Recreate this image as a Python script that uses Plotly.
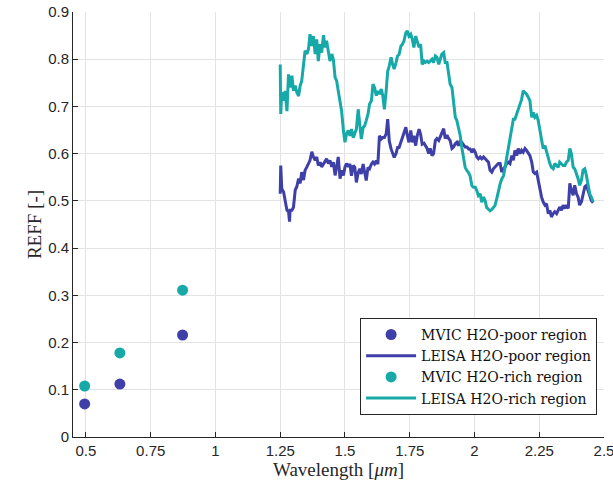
import plotly.graph_objects as go

# MVIC broadband points
mvic_wl = [0.495, 0.631, 0.873]
mvic_poor = [0.070, 0.112, 0.216]
mvic_rich = [0.108, 0.178, 0.311]

# LEISA wavelengths (um)
leisa_wl = [
    1.250, 1.252, 1.256, 1.263, 1.269, 1.276, 1.282, 1.286, 1.288, 1.295, 1.301, 1.308, 1.314, 1.321,
    1.327, 1.333, 1.340, 1.346, 1.353, 1.359, 1.365, 1.372, 1.378, 1.385, 1.391, 1.397, 1.404, 1.410,
    1.417, 1.423, 1.429, 1.436, 1.442, 1.449, 1.455, 1.462, 1.468, 1.474, 1.481, 1.487, 1.494, 1.500,
    1.506, 1.513,
    1.519, 1.525, 1.532, 1.538, 1.544, 1.551, 1.557, 1.563, 1.570, 1.576, 1.582, 1.589, 1.595, 1.602,
    1.608, 1.614, 1.621, 1.627, 1.633, 1.640, 1.646, 1.652, 1.659, 1.665, 1.671, 1.678, 1.684, 1.690,
    1.697, 1.703, 1.709, 1.716, 1.722, 1.728, 1.735, 1.741, 1.747, 1.754, 1.760, 1.766, 1.773, 1.779,
    1.786, 1.792, 1.798, 1.805,
    1.810, 1.817, 1.823, 1.829, 1.836, 1.842, 1.849, 1.855, 1.862, 1.868, 1.874, 1.881, 1.887, 1.894,
    1.900, 1.906, 1.913, 1.919, 1.926, 1.932, 1.938, 1.945, 1.951, 1.958, 1.964, 1.971, 1.977, 1.983,
    1.990, 1.996, 2.003, 2.009, 2.015, 2.022, 2.028, 2.035, 2.041, 2.047, 2.054, 2.060, 2.067, 2.073,
    2.079, 2.086, 2.092, 2.099,
    2.105, 2.112, 2.118, 2.124, 2.131, 2.137, 2.144, 2.150, 2.156, 2.163, 2.169, 2.176, 2.182, 2.188,
    2.195, 2.201, 2.208, 2.214, 2.221, 2.227, 2.233, 2.240, 2.246, 2.253, 2.259, 2.265, 2.272, 2.278,
    2.285, 2.291, 2.297, 2.304, 2.310, 2.317, 2.323, 2.329, 2.336, 2.342, 2.349, 2.355, 2.362, 2.368,
    2.374, 2.381, 2.387, 2.394, 2.400, 2.406, 2.413, 2.419, 2.426, 2.432, 2.438, 2.445, 2.451, 2.458,
]

leisa_poor = [
    0.515, 0.575, 0.526, 0.519, 0.501, 0.480, 0.477, 0.456, 0.480, 0.480, 0.486, 0.523, 0.530, 0.547,
    0.537, 0.561, 0.544, 0.565, 0.572, 0.579, 0.586, 0.604, 0.593, 0.586, 0.593, 0.575, 0.582, 0.572,
    0.579, 0.582, 0.589, 0.579, 0.586, 0.572, 0.582, 0.554, 0.575, 0.593, 0.547, 0.565, 0.554, 0.572,
    0.579, 0.572,
    0.578, 0.553, 0.575, 0.571, 0.539, 0.560, 0.568, 0.557, 0.578, 0.560, 0.543, 0.571, 0.568, 0.578,
    0.582, 0.578, 0.585, 0.578, 0.638, 0.631, 0.634, 0.634, 0.642, 0.673, 0.627, 0.610, 0.600, 0.592,
    0.600, 0.613, 0.613, 0.624, 0.638, 0.645, 0.656, 0.638, 0.624, 0.649, 0.624, 0.638, 0.617, 0.638,
    0.652, 0.641, 0.620, 0.622,
    0.617, 0.611, 0.600, 0.611, 0.596, 0.600, 0.628, 0.632, 0.628, 0.635, 0.642, 0.653, 0.632, 0.639,
    0.632, 0.628, 0.611, 0.614, 0.621, 0.624, 0.617, 0.628, 0.624, 0.617, 0.614, 0.614, 0.610, 0.610,
    0.603, 0.610, 0.603, 0.593, 0.589, 0.593, 0.589, 0.593, 0.589, 0.586, 0.582, 0.565, 0.561, 0.568,
    0.572, 0.575, 0.579, 0.579,
    0.561, 0.568, 0.572, 0.579, 0.582, 0.579, 0.596, 0.586, 0.607, 0.596, 0.611, 0.600, 0.607, 0.603,
    0.611, 0.607, 0.600, 0.596, 0.582, 0.561, 0.558, 0.561, 0.544, 0.523, 0.508, 0.498, 0.491, 0.494,
    0.473, 0.480, 0.466, 0.473, 0.477, 0.473, 0.480, 0.487, 0.480, 0.491, 0.484, 0.491, 0.484, 0.537,
    0.523, 0.512, 0.533, 0.515, 0.508, 0.491, 0.498, 0.515, 0.530, 0.533, 0.523, 0.512, 0.501, 0.496,
]

leisa_rich = [
    0.789, 0.684, 0.730, 0.712, 0.733, 0.690, 0.768, 0.755, 0.740, 0.765, 0.733, 0.744, 0.730, 0.722,
    0.744, 0.754, 0.796, 0.818, 0.811, 0.821, 0.853, 0.828, 0.849, 0.811, 0.842, 0.796, 0.832, 0.814,
    0.851, 0.825, 0.839, 0.818, 0.796, 0.811, 0.800, 0.761, 0.754, 0.733, 0.712, 0.690, 0.649, 0.624,
    0.642, 0.649,
    0.638, 0.652, 0.634, 0.645, 0.652, 0.694, 0.655, 0.631, 0.655, 0.659, 0.670, 0.684, 0.705, 0.712,
    0.747, 0.740, 0.723, 0.733, 0.726, 0.737, 0.723, 0.694, 0.733, 0.775, 0.786, 0.804, 0.789, 0.779,
    0.793, 0.807, 0.810, 0.828, 0.832, 0.839, 0.856, 0.860, 0.849, 0.853, 0.842, 0.825, 0.849, 0.835,
    0.825, 0.832, 0.789, 0.796,
    0.793, 0.796, 0.793, 0.796, 0.800, 0.793, 0.807, 0.804, 0.789, 0.800, 0.811, 0.814, 0.793, 0.793,
    0.768, 0.747, 0.740, 0.705, 0.677, 0.670, 0.656, 0.638, 0.613, 0.592, 0.571, 0.564, 0.560, 0.553,
    0.532, 0.529, 0.529, 0.522, 0.511, 0.515, 0.497, 0.508, 0.501, 0.486, 0.482, 0.479, 0.482, 0.486,
    0.490, 0.505, 0.522, 0.536,
    0.546, 0.553, 0.571, 0.589, 0.613, 0.634, 0.656, 0.673, 0.673, 0.684, 0.694, 0.701, 0.715, 0.733,
    0.729, 0.726, 0.719, 0.712, 0.677, 0.687, 0.677, 0.681, 0.670, 0.649, 0.627, 0.611, 0.617, 0.603,
    0.593, 0.579, 0.571, 0.568, 0.579, 0.575, 0.571, 0.582, 0.579, 0.575, 0.575, 0.582, 0.586, 0.611,
    0.600, 0.571, 0.568, 0.558, 0.547, 0.533, 0.544, 0.565, 0.568, 0.554, 0.533, 0.515, 0.508, 0.498,
]

x_ticks = [0.5, 0.75, 1, 1.25, 1.5, 1.75, 2, 2.25, 2.5]
x_tick_labels = ["0.5", "0.75", "1", "1.25", "1.5", "1.75", "2", "2.25", "2.5"]
y_ticks = [0, 0.1, 0.2, 0.3, 0.4, 0.5, 0.6, 0.7, 0.8, 0.9]
y_tick_labels = ["0", "0.1", "0.2", "0.3", "0.4", "0.5", "0.6", "0.7", "0.8", "0.9"]

PURPLE = "#3f3fa9"
TEAL = "#17a9a8"
SERIF = "Times New Roman, Liberation Serif, DejaVu Serif, serif"

fig = go.Figure()
fig.add_trace(go.Scatter(x=mvic_wl, y=mvic_poor, mode="markers", name="MVIC H2O-poor region",
                         marker=dict(color=PURPLE, size=11)))
fig.add_trace(go.Scatter(x=leisa_wl, y=leisa_poor, mode="lines", name="LEISA H2O-poor region",
                         line=dict(color=PURPLE, width=3)))
fig.add_trace(go.Scatter(x=mvic_wl, y=mvic_rich, mode="markers", name="MVIC H2O-rich region",
                         marker=dict(color=TEAL, size=11)))
fig.add_trace(go.Scatter(x=leisa_wl, y=leisa_rich, mode="lines", name="LEISA H2O-rich region",
                         line=dict(color=TEAL, width=3)))

axis_font = dict(family="Liberation Sans, Arial, sans-serif", size=15, color="#262626")
title_font = dict(family=SERIF, size=19, color="#262626")

fig.update_layout(
    width=613, height=490,
    margin=dict(l=73, r=9, t=12, b=53),
    paper_bgcolor="white", plot_bgcolor="white",
    showlegend=True,
    legend=dict(
        x=0.987, y=0.052, xanchor="right", yanchor="bottom",
        bgcolor="white", bordercolor="#262626", borderwidth=1,
        font=dict(family="DejaVu Serif, serif", size=14, color="#111111"),
        tracegroupgap=0, itemwidth=50,
    ),
    xaxis=dict(
        range=[0.45, 2.5], tickmode="array", tickvals=x_ticks, ticktext=x_tick_labels,
        showgrid=True, gridcolor="#e3e3e3", gridwidth=1, zeroline=False,
        showline=True, linecolor="#262626", linewidth=1, mirror=False, automargin=False,
        ticklabeloverflow="allow",
        ticks="inside", ticklen=5, tickcolor="#262626", tickfont=axis_font,
        title=dict(text="Wavelength [<i>μm</i>]", font=title_font, standoff=4),
    ),
    yaxis=dict(
        range=[0, 0.9], tickmode="array", tickvals=y_ticks, ticktext=y_tick_labels,
        showgrid=True, gridcolor="#e3e3e3", gridwidth=1, zeroline=False,
        showline=True, linecolor="#262626", linewidth=1, mirror=False, automargin=False,
        ticklabeloverflow="allow",
        ticks="inside", ticklen=5, tickcolor="#262626", tickfont=axis_font,
        title=dict(text="REFF [-]", font=title_font, standoff=1),
    ),
)

fig.write_html("out.html")
